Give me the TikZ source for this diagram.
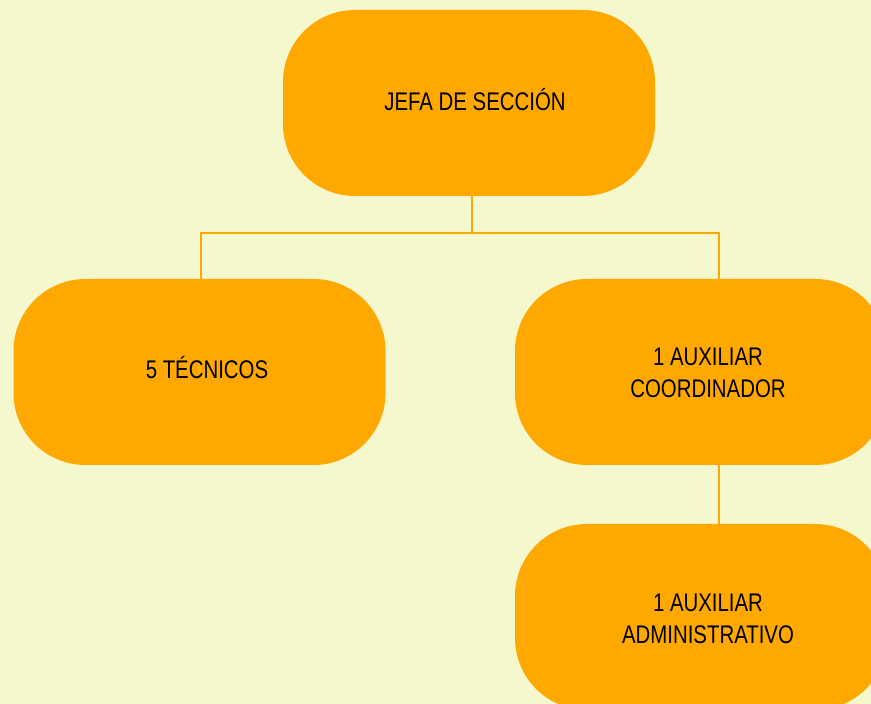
\documentclass[tikz,border=0pt]{standalone}
\usepackage{fontspec}
\setmainfont{Liberation Sans}[FakeStretch=0.8]
\definecolor{bgc}{HTML}{F5F7CC}
\definecolor{boxc}{HTML}{FFA800}
\definecolor{linec}{HTML}{FFA800}
\begin{document}
\begin{tikzpicture}[x=1pt,y=1pt,
  orgbox/.style={draw=none,fill=boxc,rounded corners=72pt,minimum width=372pt,minimum height=186pt,
    inner sep=0pt},
  orgtext/.style={font=\fontsize{25.5}{32}\selectfont,align=center,text=black,inner sep=0pt},
  conn/.style={draw=linec,line width=2.2pt}]
\useasboundingbox (0,0) rectangle (871,704);
\fill[bgc] (0,0) rectangle (871,704);
\begin{scope}
\clip (0,0) rectangle (871,704);
\node[orgbox] (jefa) at (469,601) {};
\node[orgtext] at (475,604) (tjefa) {JEFA DE SECCIÓN};
\node[orgbox] (tec) at (199.5,332) {};
\node[orgtext] at (207,336) (ttec) {5 TÉCNICOS};
\node[orgbox] (coord) at (701,332) {};
\node[orgtext] at (708,331.5) (tcoord) {1 AUXILIAR\\ COORDINADOR};
\node[orgbox] (adm) at (701,87) {};
\node[orgtext] at (708,85.5) (tadm) {1 AUXILIAR\\ ADMINISTRATIVO};
\coordinate (j) at (472,508);
\coordinate (bus) at (472,471);
\draw[conn] (j) -- (bus);
\draw[conn,line cap=rect] (tec.north -| 201,0) |- (bus) -| (coord.north -| 719,0);
\draw[conn] (coord.south -| 719,0) -- (adm.north -| 719,0);
\end{scope}
\end{tikzpicture}
\end{document}
